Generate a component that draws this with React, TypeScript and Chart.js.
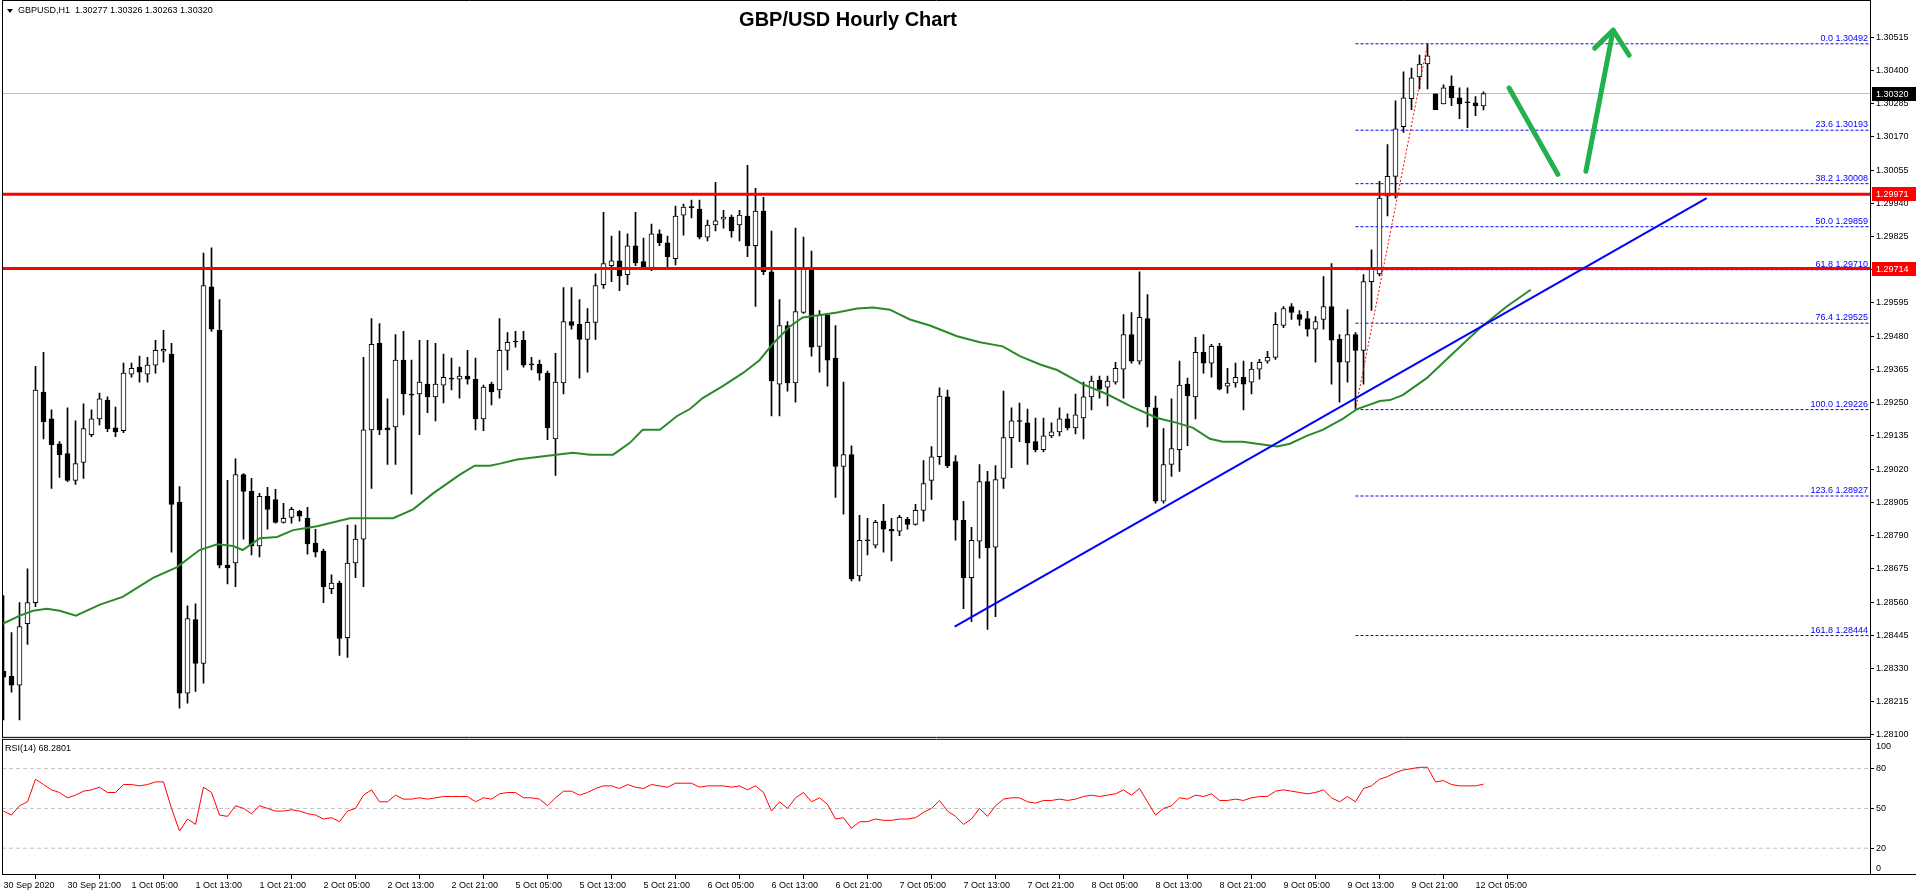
import React, { useEffect, useRef } from 'react';
import { Chart, registerables } from 'chart.js';
Chart.register(...registerables);

// ---------- data ----------
const timeLabels = [
  '30 Sep 2020', '30 Sep 21:00', '1 Oct 05:00', '1 Oct 13:00', '1 Oct 21:00', '2 Oct 05:00',
  '2 Oct 13:00', '2 Oct 21:00', '5 Oct 05:00', '5 Oct 13:00', '5 Oct 21:00', '6 Oct 05:00',
  '6 Oct 13:00', '6 Oct 21:00', '7 Oct 05:00', '7 Oct 13:00', '7 Oct 21:00', '8 Oct 05:00',
  '8 Oct 13:00', '8 Oct 21:00', '9 Oct 05:00', '9 Oct 13:00', '9 Oct 21:00', '12 Oct 05:00',
];
const timeLabelBars = [0, 8, 16, 24, 32, 40, 48, 56, 64, 72, 80, 88, 96, 104, 112, 120, 128, 136, 144, 152, 160, 168, 176, 184];

const opens = [
  1.28320, 1.28303, 1.28272, 1.28485, 1.28558, 1.29287, 1.29194, 1.29108, 1.29074, 1.28981,
  1.29043, 1.29139, 1.29194, 1.29259, 1.29163, 1.29153, 1.29349, 1.29373, 1.29349, 1.29380,
  1.29428, 1.29418, 1.28905, 1.28245, 1.28499, 1.28348, 1.29651, 1.29500, 1.28688, 1.28695,
  1.29001, 1.28943, 1.28754, 1.28926, 1.28915, 1.28836, 1.28853, 1.28874, 1.28850, 1.28764,
  1.28736, 1.28606, 1.28626, 1.28437, 1.28695, 1.28778, 1.29156, 1.29455, 1.29163, 1.29166,
  1.29397, 1.29280, 1.29280, 1.29314, 1.29270, 1.29311, 1.29335, 1.29331, 1.29342, 1.29331,
  1.29194, 1.29314, 1.29294, 1.29431, 1.29462, 1.29466, 1.29383, 1.29383, 1.29352, 1.29125,
  1.29318, 1.29531, 1.29521, 1.29469, 1.29528, 1.29658, 1.29724, 1.29741, 1.29693, 1.29793,
  1.29738, 1.29717, 1.29834, 1.29803, 1.29748, 1.29899, 1.29927, 1.29920, 1.29823, 1.29865,
  1.29885, 1.29892, 1.29865, 1.29896, 1.29793, 1.29913, 1.29703, 1.29314, 1.29517, 1.29318,
  1.29562, 1.29713, 1.29445, 1.29552, 1.29404, 1.29029, 1.29070, 1.28650, 1.28774, 1.28757,
  1.28840, 1.28812, 1.28805, 1.28846, 1.28829, 1.28877, 1.28981, 1.29063, 1.29270, 1.29046,
  1.28843, 1.28644, 1.28771, 1.28977, 1.28750, 1.28988, 1.29129, 1.29187, 1.29180, 1.29115,
  1.29087, 1.29135, 1.29149, 1.29194, 1.29163, 1.29197, 1.29270, 1.29328, 1.29304, 1.29321,
  1.29366, 1.29486, 1.29394, 1.29541, 1.29232, 1.28909, 1.29036, 1.29087, 1.29314, 1.29270,
  1.29424, 1.29387, 1.29445, 1.29307, 1.29318, 1.29338, 1.29321, 1.29366, 1.29394, 1.29407,
  1.29517, 1.29583, 1.29555, 1.29541, 1.29504, 1.29538, 1.29583, 1.29469, 1.29390, 1.29486,
  1.29431, 1.29669, 1.29696, 1.29965, 1.30033, 1.30205, 1.30302, 1.30377, 1.30422, 1.30319,
  1.30284, 1.30346, 1.30305, 1.30291, 1.30288, 1.30277,
];
const highs = [
  1.28582, 1.28454, 1.28558, 1.28675, 1.29376, 1.29424, 1.29225, 1.29115, 1.29232, 1.29187,
  1.29246, 1.29225, 1.29283, 1.29270, 1.29235, 1.29387, 1.29387, 1.29411, 1.29407, 1.29466,
  1.29500, 1.29455, 1.28960, 1.28547, 1.28554, 1.29768, 1.29786, 1.29607, 1.28981, 1.29056,
  1.29005, 1.28988, 1.28936, 1.28957, 1.28950, 1.28902, 1.28888, 1.28877, 1.28888, 1.28812,
  1.28743, 1.28654, 1.28633, 1.28826, 1.28826, 1.29407, 1.29541, 1.29524, 1.29263, 1.29486,
  1.29497, 1.29397, 1.29466, 1.29466, 1.29455, 1.29418, 1.29404, 1.29373, 1.29431, 1.29404,
  1.29311, 1.29321, 1.29541, 1.29493, 1.29497, 1.29497, 1.29407, 1.29397, 1.29359, 1.29421,
  1.29648, 1.29648, 1.29607, 1.29576, 1.29696, 1.29909, 1.29827, 1.29844, 1.29834, 1.29909,
  1.29820, 1.29868, 1.29848, 1.29827, 1.29930, 1.29937, 1.29951, 1.29951, 1.29882, 1.30013,
  1.29916, 1.29899, 1.29916, 1.30071, 1.29992, 1.29961, 1.29844, 1.29607, 1.29531, 1.29854,
  1.29823, 1.29775, 1.29569, 1.29559, 1.29517, 1.29321, 1.29101, 1.28860, 1.28850, 1.28843,
  1.28898, 1.28850, 1.28860, 1.28853, 1.28898, 1.29050, 1.29098, 1.29301, 1.29294, 1.29067,
  1.28909, 1.28819, 1.29036, 1.29012, 1.29032, 1.29290, 1.29232, 1.29249, 1.29228, 1.29197,
  1.29197, 1.29180, 1.29232, 1.29211, 1.29280, 1.29321, 1.29342, 1.29342, 1.29342, 1.29390,
  1.29555, 1.29562, 1.29703, 1.29624, 1.29273, 1.29160, 1.29263, 1.29394, 1.29335, 1.29476,
  1.29486, 1.29452, 1.29455, 1.29369, 1.29387, 1.29394, 1.29390, 1.29400, 1.29428, 1.29562,
  1.29583, 1.29593, 1.29569, 1.29566, 1.29548, 1.29686, 1.29731, 1.29486, 1.29572, 1.29493,
  1.29693, 1.29779, 1.30016, 1.30143, 1.30295, 1.30395, 1.30408, 1.30453, 1.30492, 1.30319,
  1.30350, 1.30381, 1.30340, 1.30340, 1.30309, 1.30326,
];
const lows = [
  1.28152, 1.28248, 1.28152, 1.28413, 1.28544, 1.29125, 1.28953, 1.28991, 1.28977, 1.28967,
  1.28988, 1.29132, 1.29173, 1.29150, 1.29132, 1.29146, 1.29338, 1.29321, 1.29321, 1.29352,
  1.29390, 1.28733, 1.28193, 1.28210, 1.28251, 1.28279, 1.29497, 1.28678, 1.28623, 1.28613,
  1.28778, 1.28723, 1.28716, 1.28812, 1.28833, 1.28833, 1.28833, 1.28840, 1.28726, 1.28716,
  1.28558, 1.28589, 1.28375, 1.28368, 1.28644, 1.28613, 1.28953, 1.29139, 1.29036, 1.29036,
  1.29208, 1.28933, 1.29139, 1.29215, 1.29187, 1.29249, 1.29294, 1.29266, 1.29314, 1.29156,
  1.29153, 1.29242, 1.29266, 1.29363, 1.29442, 1.29373, 1.29363, 1.29328, 1.29122, 1.28998,
  1.29280, 1.29504, 1.29335, 1.29356, 1.29469, 1.29645, 1.29669, 1.29638, 1.29658, 1.29724,
  1.29710, 1.29707, 1.29793, 1.29720, 1.29727, 1.29830, 1.29889, 1.29817, 1.29810, 1.29844,
  1.29854, 1.29823, 1.29810, 1.29755, 1.29583, 1.29693, 1.29204, 1.29204, 1.29290, 1.29252,
  1.29559, 1.29411, 1.29356, 1.29307, 1.28922, 1.28864, 1.28633, 1.28633, 1.28723, 1.28747,
  1.28733, 1.28702, 1.28790, 1.28812, 1.28826, 1.28840, 1.28915, 1.29036, 1.29025, 1.28774,
  1.28537, 1.28492, 1.28712, 1.28465, 1.28509, 1.28953, 1.29025, 1.29115, 1.29036, 1.29080,
  1.29080, 1.29129, 1.29135, 1.29156, 1.29142, 1.29125, 1.29225, 1.29266, 1.29239, 1.29314,
  1.29266, 1.29387, 1.29383, 1.29166, 1.28902, 1.28902, 1.28995, 1.29012, 1.29101, 1.29194,
  1.29352, 1.29338, 1.29294, 1.29283, 1.29304, 1.29225, 1.29280, 1.29331, 1.29387, 1.29400,
  1.29510, 1.29538, 1.29517, 1.29480, 1.29390, 1.29504, 1.29314, 1.29252, 1.29321, 1.29226,
  1.29314, 1.29569, 1.29689, 1.29896, 1.29958, 1.30185, 1.30264, 1.30336, 1.30336, 1.30264,
  1.30284, 1.30278, 1.30233, 1.30202, 1.30243, 1.30263,
];
const closes = [
  1.28300, 1.28272, 1.28475, 1.28558, 1.29294, 1.29184, 1.29105, 1.29070, 1.28981, 1.29039,
  1.29160, 1.29194, 1.29263, 1.29160, 1.29149, 1.29352, 1.29369, 1.29356, 1.29380, 1.29431,
  1.29435, 1.28898, 1.28245, 1.28503, 1.28348, 1.29655, 1.29504, 1.28688, 1.28678, 1.29001,
  1.28943, 1.28754, 1.28926, 1.28881, 1.28836, 1.28850, 1.28881, 1.28857, 1.28761, 1.28733,
  1.28613, 1.28626, 1.28434, 1.28695, 1.28778, 1.29156, 1.29452, 1.29156, 1.29156, 1.29397,
  1.29280, 1.29276, 1.29321, 1.29270, 1.29314, 1.29338, 1.29331, 1.29342, 1.29331, 1.29194,
  1.29304, 1.29287, 1.29431, 1.29459, 1.29460, 1.29380, 1.29381, 1.29352, 1.29163, 1.29321,
  1.29531, 1.29517, 1.29469, 1.29528, 1.29655, 1.29731, 1.29741, 1.29689, 1.29793, 1.29734,
  1.29720, 1.29834, 1.29803, 1.29755, 1.29896, 1.29927, 1.29925, 1.29823, 1.29865, 1.29879,
  1.29892, 1.29844, 1.29899, 1.29793, 1.29913, 1.29703, 1.29325, 1.29517, 1.29318, 1.29565,
  1.29713, 1.29442, 1.29552, 1.29397, 1.29029, 1.29070, 1.28640, 1.28774, 1.28772, 1.28836,
  1.28812, 1.28805, 1.28853, 1.28829, 1.28877, 1.28970, 1.29063, 1.29273, 1.29032, 1.28843,
  1.28644, 1.28774, 1.28977, 1.28747, 1.28984, 1.29129, 1.29187, 1.29185, 1.29111, 1.29087,
  1.29135, 1.29149, 1.29194, 1.29163, 1.29208, 1.29270, 1.29325, 1.29297, 1.29325, 1.29369,
  1.29486, 1.29394, 1.29545, 1.29235, 1.28909, 1.29036, 1.29091, 1.29311, 1.29273, 1.29424,
  1.29387, 1.29445, 1.29297, 1.29318, 1.29338, 1.29314, 1.29366, 1.29390, 1.29407, 1.29521,
  1.29576, 1.29562, 1.29538, 1.29504, 1.29531, 1.29583, 1.29466, 1.29390, 1.29486, 1.29431,
  1.29669, 1.29713, 1.29958, 1.30033, 1.30198, 1.30305, 1.30374, 1.30422, 1.30450, 1.30264,
  1.30340, 1.30305, 1.30284, 1.30288, 1.30278, 1.30320,
];

// moving average, read as [bar, price]
const maPoints: [number, number][] = [
  [-0.1, 1.28485], [2.05, 1.28513], [3.7, 1.28530], [5.4, 1.28537], [7.05, 1.28530], [9.05, 1.28513],
  [12.05, 1.28551], [14.9, 1.28578], [18.7, 1.28644], [21.7, 1.28681], [24.5, 1.28740], [26.7, 1.28760],
  [28.7, 1.28754], [29.9, 1.28740], [32.05, 1.28781], [34.2, 1.28785], [36.2, 1.28809], [39.2, 1.28822],
  [43.3, 1.28850], [48.7, 1.28850], [51.2, 1.28881], [53.7, 1.28936], [57.05, 1.29001], [58.9, 1.29032],
  [60.8, 1.29032], [62.05, 1.29039], [64.2, 1.29053], [68.3, 1.29067], [71.2, 1.29077], [73.3, 1.29070],
  [76.2, 1.29070], [78.3, 1.29111], [79.9, 1.29156], [82.05, 1.29156], [84.2, 1.29204], [85.8, 1.29228],
  [87.4, 1.29266], [89.9, 1.29307], [92.4, 1.29352], [94.5, 1.29397], [96.2, 1.29455], [98.3, 1.29514],
  [99.9, 1.29545], [101.7, 1.29552], [104.2, 1.29562], [106.7, 1.29576], [108.7, 1.29579], [110.8, 1.29572],
  [113.3, 1.29538], [115.8, 1.29517], [119.2, 1.29480], [122.05, 1.29459], [124.9, 1.29445], [127.05, 1.29411],
  [129.5, 1.29383], [131.7, 1.29363], [134.9, 1.29314], [137.9, 1.29280], [140.8, 1.29239], [144.2, 1.29197],
  [146.7, 1.29180], [148.7, 1.29163], [150.8, 1.29125], [152.4, 1.29115], [154.9, 1.29115], [156.7, 1.29108],
  [159.2, 1.29098], [160.8, 1.29108], [162.9, 1.29135], [164.9, 1.29156], [167.4, 1.29194], [169.2, 1.29228],
  [172.05, 1.29256], [173.3, 1.29259], [174.9, 1.29276], [177.9, 1.29335], [181.2, 1.29421], [184.5, 1.29507],
  [187.9, 1.29583], [190.9, 1.29641],
];

const rsiValues = [
  48, 45, 52, 55, 72, 68, 64, 62, 58, 60, 63, 64, 66, 62, 62, 68, 68, 67, 68, 70,
  70, 50, 33, 42, 38, 66, 62, 45, 44, 52, 50, 46, 52, 50, 48, 48, 49, 48, 46, 45,
  42, 43, 40, 48, 50, 60, 64, 55, 55, 60, 57, 57, 58, 57, 58, 59, 59, 59, 59, 55,
  58, 57, 61, 62, 62, 58, 58, 57, 52, 58, 63, 63, 60, 62, 65, 67, 67, 65, 68, 66,
  65, 68, 67, 66, 69, 69, 69, 66, 67, 67, 67, 66, 67, 64, 67, 62, 48, 55, 50, 58,
  62, 55, 58, 53, 42, 43, 35, 40, 40, 42, 41, 41, 42, 42, 43, 47, 50, 56, 48, 44,
  38, 42, 50, 44, 52, 57, 58, 58, 55, 54, 56, 56, 57, 56, 57, 59, 60, 59, 60, 61,
  64, 60, 65, 55, 45, 50, 52, 58, 57, 60, 59, 61, 56, 56, 57, 56, 58, 59, 59, 63,
  64, 63, 62, 61, 62, 64, 58, 55, 59, 55, 65, 67, 72, 74, 77, 79, 80, 81, 81, 70,
  71, 68, 67, 67, 67, 68.28,
];

const priceTicks = [
  1.28100, 1.28215, 1.28330, 1.28445, 1.28560, 1.28675, 1.28790, 1.28905, 1.29020, 1.29135, 1.29250,
  1.29365, 1.29480, 1.29595, 1.29710, 1.29825, 1.29940, 1.30055, 1.30170, 1.30285, 1.30400, 1.30515,
];
const priceTickLabels = [
  '1.28100', '1.28215', '1.28330', '1.28445', '1.28560', '1.28675', '1.28790', '1.28905', '1.29020', '1.29135', '1.29250',
  '1.29365', '1.29480', '1.29595', '1.29710', '1.29825', '1.29940', '1.30055', '1.30170', '1.30285', '1.30400', '1.30515',
];
// RSI axis labels; the 0 and 100 labels sit just inside the pane, as in the terminal
const rsiTickPositions = [5, 20, 50, 80, 96.5];
const rsiTickLabels = ['0', '20', '50', '80', '100'];
const rsiLevels = [20, 50, 80];

const fibRatios = ['0.0', '23.6', '38.2', '50.0', '61.8', '76.4', '100.0', '123.6', '161.8'];
const fibPrices = [1.30492, 1.30193, 1.30008, 1.29859, 1.29710, 1.29525, 1.29226, 1.28927, 1.28444];
const fibStartBar = 169;
const fibSwing: [number, number][] = [[169, 1.29226], [178, 1.30492]];

const resistanceLevels = [1.29971, 1.29714];
const lastPrice = 1.30320;
const headerText = 'GBPUSD,H1  1.30277 1.30326 1.30263 1.30320';
const rsiText = 'RSI(14) 68.2801';
const titleText = 'GBP/USD Hourly Chart';

const trendLine: [number, number][] = [[118.9, 1.28475], [212.9, 1.29958]];
const arrowDown: [number, number][] = [[188.2, 1.30339], [194.3, 1.30040]];
const arrowUp: [number, number][] = [[197.8, 1.30051], [201.2, 1.30539]];
const arrowHead: [number, number][] = [[198.9, 1.30477], [201.2, 1.30539], [203.2, 1.30453]];

// axis ranges
const X_MIN = -0.1875;
const X_MAX = 233.3125;
const P_MIN = 1.28090;
const P_MAX = 1.30618;

const FONT = 'Liberation Sans';

function pts(a: [number, number][]) {
  return a.map(([x, y]) => ({ x, y }));
}

export default function App() {
  const ref = useRef<HTMLCanvasElement>(null);

  useEffect(() => {
    document.body.style.margin = '0';
    document.body.style.overflow = 'hidden';
    const canvas = ref.current!;
    const idx = opens.map((_, i) => i);

    const lineDs = (data: any[], color: string, width: number, extra: any = {}) => ({
      type: 'line',
      data,
      borderColor: color,
      borderWidth: width,
      pointRadius: 0,
      fill: false,
      tension: 0,
      xAxisID: 'x',
      yAxisID: 'y',
      order: 1,
      ...extra,
    });

    const datasets: any[] = [
      // wicks
      {
        type: 'bar',
        data: idx.map((i) => ({ x: i, y: [lows[i], highs[i]] })),
        backgroundColor: '#000',
        borderWidth: 0,
        barThickness: 1,
        minBarLength: 1,
        grouped: false,
        xAxisID: 'x',
        yAxisID: 'y',
        order: 20,
      },
      // bodies
      {
        type: 'bar',
        data: idx.map((i) => ({ x: i, y: [opens[i], closes[i]] })),
        backgroundColor: idx.map((i) => (closes[i] < opens[i] ? '#000' : '#fff')),
        borderColor: '#000',
        borderWidth: 1,
        borderSkipped: false,
        barThickness: 5,
        minBarLength: 1,
        grouped: false,
        xAxisID: 'x',
        yAxisID: 'y',
        order: 19,
      },
      lineDs([{ x: X_MIN, y: lastPrice }, { x: X_MAX, y: lastPrice }], '#c0c0c0', 1, { order: 25 }),
      ...fibPrices.map((p) =>
        lineDs([{ x: fibStartBar, y: p }, { x: X_MAX, y: p }], '#0000ff', 1, { borderDash: [3, 2], order: 24 })
      ),
      ...resistanceLevels.map((p) => lineDs([{ x: X_MIN, y: p }, { x: X_MAX, y: p }], '#ff0000', 3, { order: 5 })),
      lineDs(pts(fibSwing), '#ff0000', 1, { borderDash: [2, 2], order: 4 }),
      lineDs(maPoints.map(([x, y]) => ({ x, y })), '#2a8a2a', 2, { order: 3 }),
      lineDs(pts(trendLine), '#0000ff', 2, { order: 2 }),
      lineDs(pts(arrowDown), '#22b14c', 5, { borderCapStyle: 'round', order: 1 }),
      lineDs(pts(arrowUp), '#22b14c', 5, { borderCapStyle: 'round', order: 1 }),
      lineDs(pts(arrowHead), '#22b14c', 5, { borderCapStyle: 'round', borderJoinStyle: 'round', order: 1 }),
      ...rsiLevels.map((v) =>
        lineDs([{ x: X_MIN, y: v }, { x: X_MAX, y: v }], '#c0c0c0', 1, { yAxisID: 'yR', borderDash: [4, 3], order: 6 })
      ),
      lineDs(idx.map((i) => ({ x: i, y: rsiValues[i] })), '#ff0000', 1, { yAxisID: 'yR', order: 5 }),
    ];

    const overlay = {
      id: 'overlay',
      afterDraw(chart: any) {
        const ctx = chart.ctx;
        const ys = chart.scales.y;
        const yr = chart.scales.yR;
        const area = chart.chartArea;
        ctx.save();
        // frames
        ctx.strokeStyle = '#000';
        ctx.lineWidth = 1;
        ctx.beginPath();
        ctx.moveTo(area.left + 0.5, 0.5);
        ctx.lineTo(area.right + 0.5, 0.5);
        ctx.moveTo(area.left + 0.5, 0);
        ctx.lineTo(area.left + 0.5, ys.bottom);
        ctx.moveTo(area.right + 0.5, 0);
        ctx.lineTo(area.right + 0.5, ys.bottom);
        ctx.moveTo(area.left, ys.bottom - 0.5);
        ctx.lineTo(area.right + 1, ys.bottom - 0.5);
        ctx.moveTo(area.left, yr.top + 1.5);
        ctx.lineTo(area.right + 1, yr.top + 1.5);
        ctx.moveTo(area.left + 0.5, yr.top + 1);
        ctx.lineTo(area.left + 0.5, yr.bottom);
        ctx.moveTo(area.right + 0.5, yr.top + 1);
        ctx.lineTo(area.right + 0.5, yr.bottom);
        ctx.moveTo(area.left, yr.bottom - 0.5);
        ctx.lineTo(chart.width, yr.bottom - 0.5);
        ctx.stroke();

        // fib labels
        ctx.font = `9px "${FONT}"`;
        ctx.fillStyle = '#0000ff';
        ctx.textAlign = 'right';
        ctx.textBaseline = 'bottom';
        fibPrices.forEach((p, k) => {
          const py = ys.getPixelForValue(p);
          ctx.fillText(`${fibRatios[k]} ${p.toFixed(5)}`, area.right - 2, py - 1);
        });

        // price boxes
        const box = (p: number, bg: string) => {
          const py = Math.round(ys.getPixelForValue(p));
          ctx.fillStyle = bg;
          ctx.fillRect(area.right + 2, py - 7, chart.width - area.right - 2, 14);
          ctx.fillStyle = '#fff';
          ctx.textAlign = 'left';
          ctx.textBaseline = 'middle';
          ctx.fillText(p.toFixed(5), area.right + 6, py + 0.5);
        };
        resistanceLevels.forEach((p) => box(p, '#ff0000'));
        box(lastPrice, '#000');

        // header
        ctx.fillStyle = '#000';
        ctx.beginPath();
        ctx.moveTo(7, 9);
        ctx.lineTo(13, 9);
        ctx.lineTo(10, 13);
        ctx.closePath();
        ctx.fill();
        ctx.textAlign = 'left';
        ctx.textBaseline = 'middle';
        ctx.font = `9px "${FONT}"`;
        ctx.fillText(headerText, 18, 11);
        ctx.fillText(rsiText, 5, yr.top + 11);

        // title
        ctx.font = `bold 20px "${FONT}"`;
        ctx.textAlign = 'center';
        ctx.fillText(titleText, 848, 20);
        ctx.restore();
      },
    };

    const chart = new Chart(canvas, {
      type: 'bar',
      data: { datasets },
      options: {
        animation: false,
        responsive: false,
        devicePixelRatio: 1,
        events: [],
        layout: { padding: { left: 2, top: 2, right: 0, bottom: 0 } },
        plugins: { legend: { display: false }, tooltip: { enabled: false } },
        scales: {
          x: {
            type: 'linear',
            min: X_MIN,
            max: X_MAX,
            offset: false,
            afterBuildTicks: (s: any) => {
              s.ticks = timeLabelBars.map((v) => ({ value: v }));
            },
            afterFit: (s: any) => {
              s.height = 21;
            },
            ticks: {
              autoSkip: false,
              maxRotation: 0,
              align: 'start',
              padding: 1,
              color: '#000',
              font: { family: FONT, size: 9 },
              callback: (_v: any, i: number) => timeLabels[i],
            },
            grid: { drawOnChartArea: false, drawTicks: true, tickLength: 4, color: '#000' },
            border: { display: false },
          },
          y: {
            type: 'linear',
            position: 'right',
            stack: 'panes',
            stackWeight: 735,
            min: P_MIN,
            max: P_MAX,
            afterBuildTicks: (s: any) => {
              s.ticks = priceTicks.map((v) => ({ value: v }));
            },
            afterFit: (s: any) => {
              s.width = 46;
            },
            ticks: {
              padding: 2,
              color: '#000',
              font: { family: FONT, size: 9 },
              callback: (_v: any, i: number) => priceTickLabels[i],
            },
            grid: { drawOnChartArea: false, drawTicks: true, tickLength: 4, color: '#000' },
            border: { display: false },
          },
          yR: {
            type: 'linear',
            position: 'right',
            stack: 'panes',
            stackWeight: 138,
            min: -0.2,
            max: 103.2,
            afterBuildTicks: (s: any) => {
              s.ticks = rsiTickPositions.map((v) => ({ value: v }));
            },
            afterFit: (s: any) => {
              s.width = 46;
            },
            ticks: {
              padding: 2,
              color: '#000',
              font: { family: FONT, size: 9 },
              callback: (_v: any, i: number) => rsiTickLabels[i],
            },
            grid: {
              drawOnChartArea: false,
              drawTicks: true,
              tickLength: 4,
              color: '#000',
              tickColor: (c: any) => (rsiLevels.includes(c.tick && c.tick.value) ? '#000' : 'rgba(0,0,0,0)'),
            },
            border: { display: false },
          },
        },
      } as any,
      plugins: [overlay],
    } as any);

    return () => chart.destroy();
  }, []);

  return (
    <canvas
      ref={ref}
      width={1916}
      height={896}
      style={{ position: 'absolute', left: 0, top: 0, width: 1916, height: 896 }}
    />
  );
}
